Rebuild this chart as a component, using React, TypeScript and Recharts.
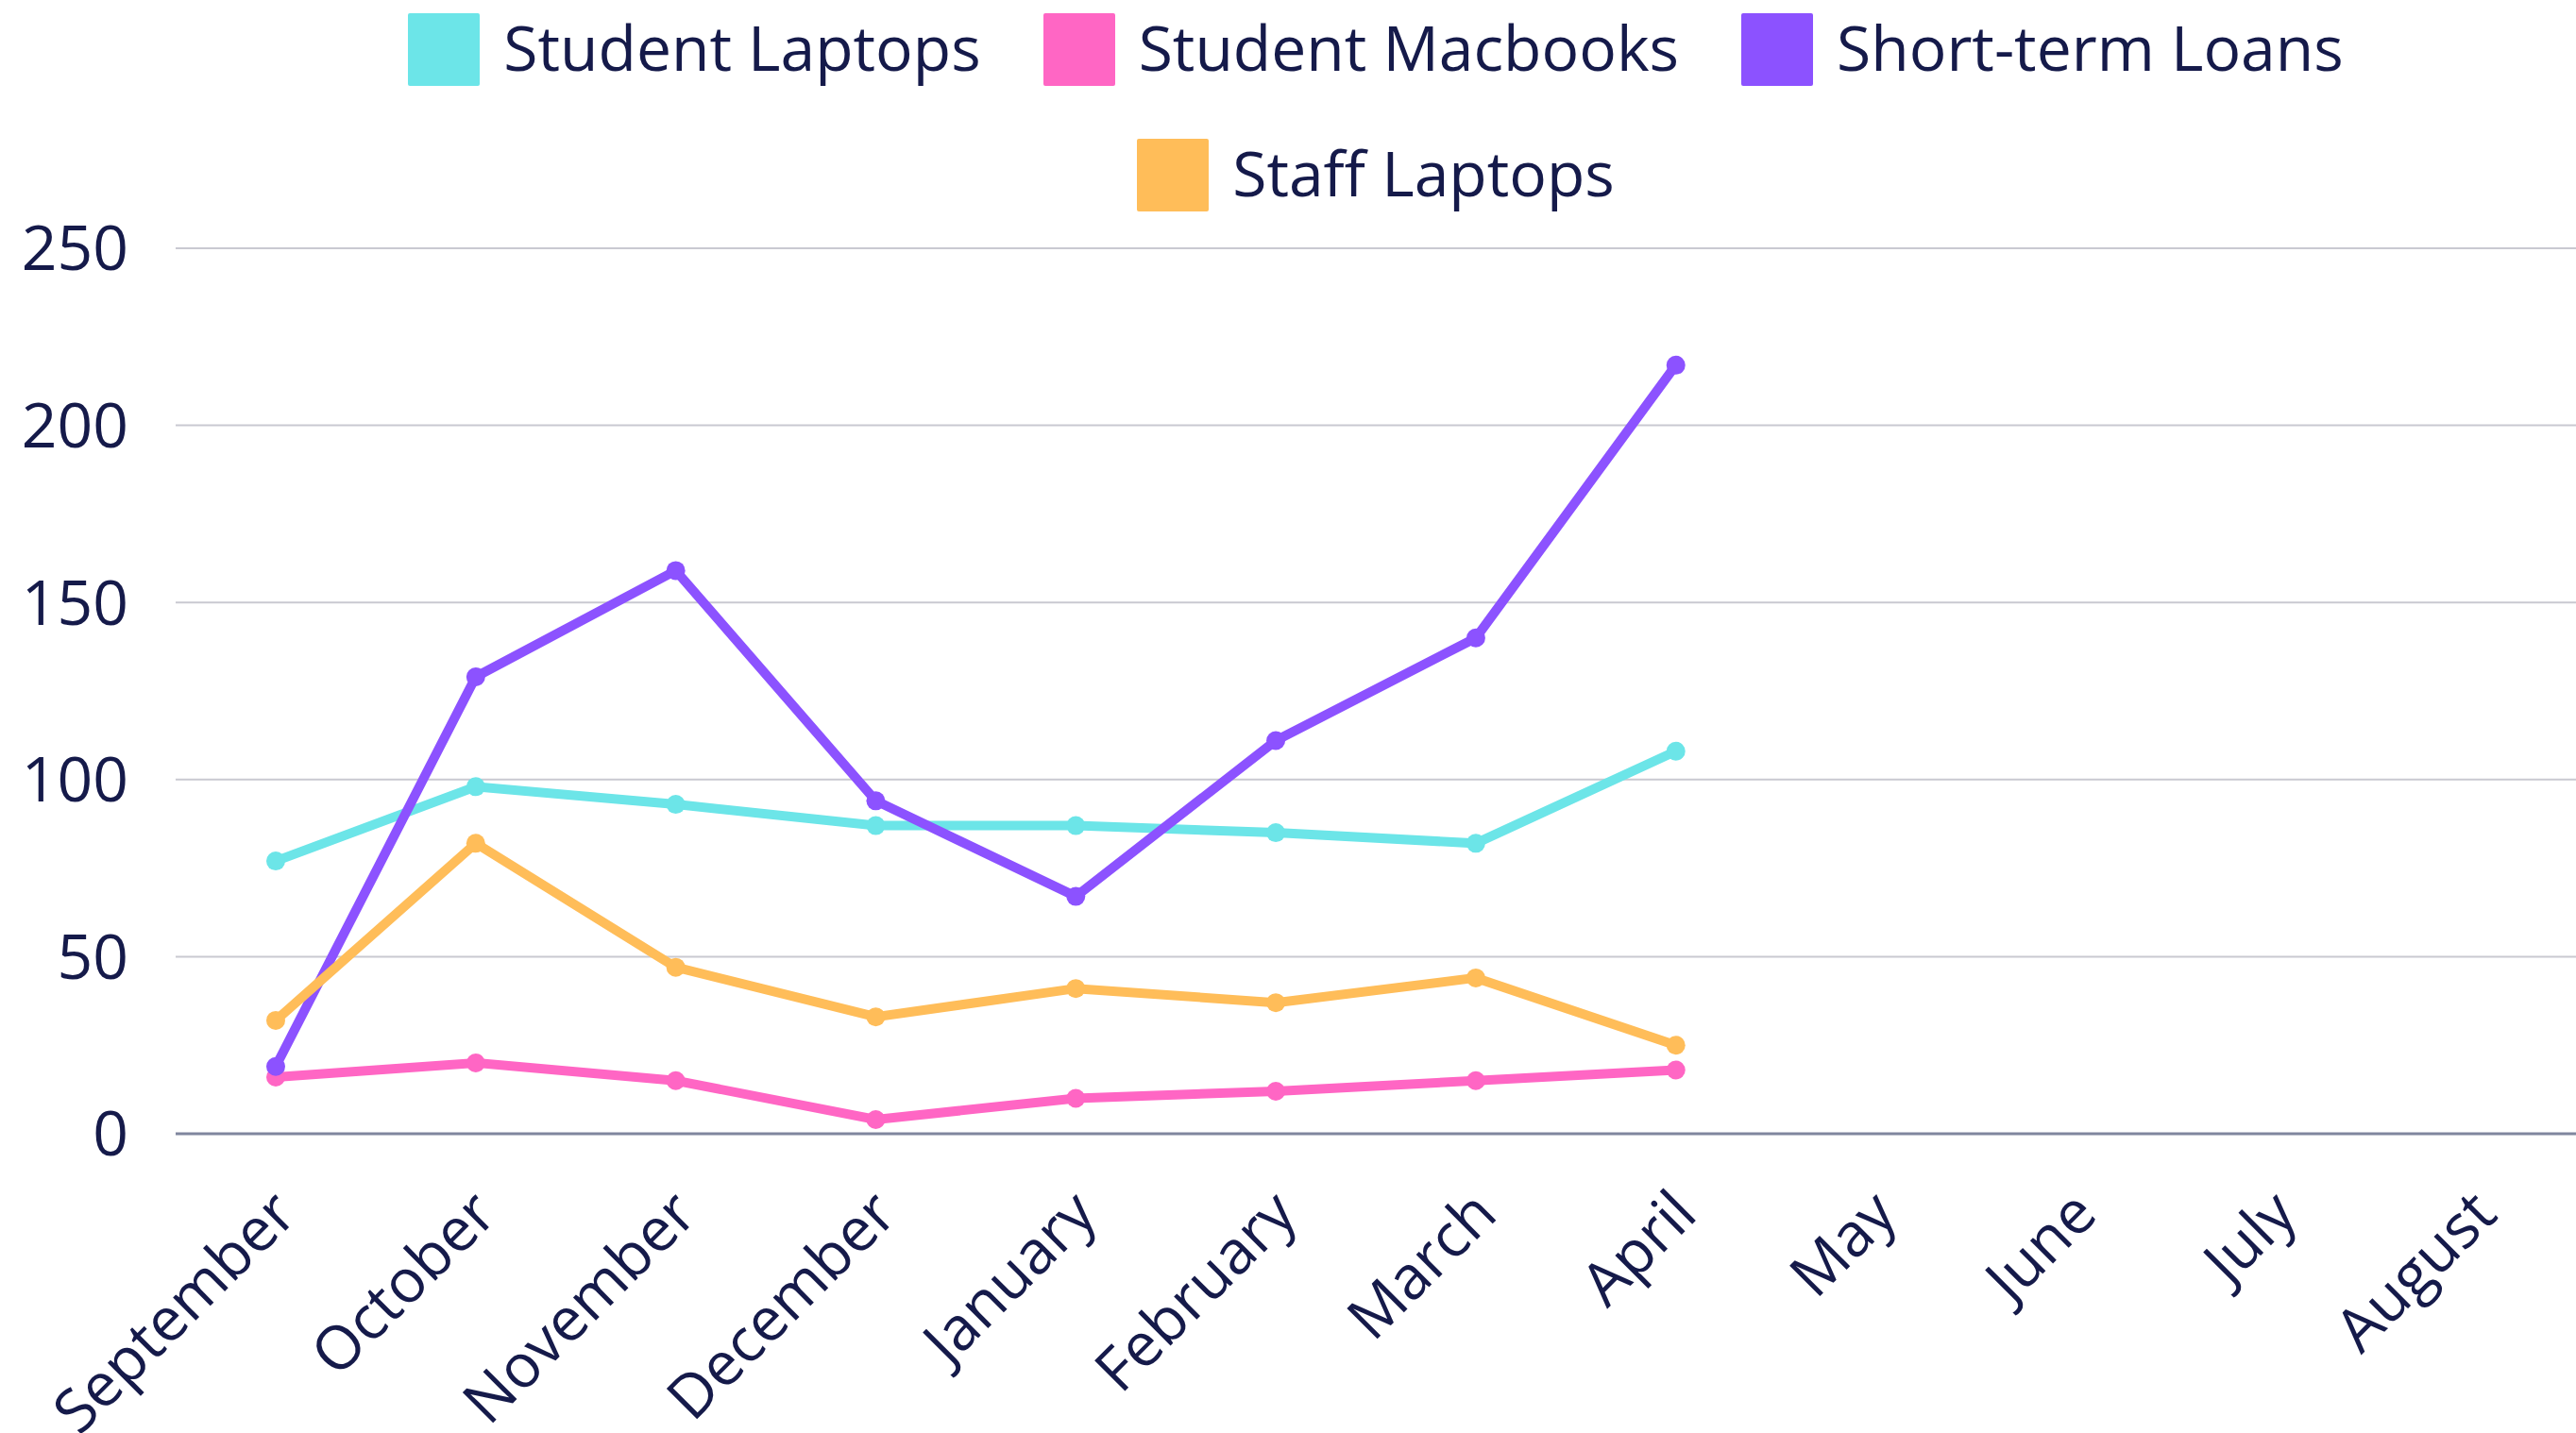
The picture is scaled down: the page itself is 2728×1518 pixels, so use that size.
import { LineChart, Line, XAxis, YAxis, CartesianGrid, Legend } from "recharts"

const months = [
  "September",
  "October",
  "November",
  "December",
  "January",
  "February",
  "March",
  "April",
  "May",
  "June",
  "July",
  "August",
]

const studentLaptops = [77, 98, 93, 87, 87, 85, 82, 108, null, null, null, null]
const studentMacbooks = [16, 20, 15, 4, 10, 12, 15, 18, null, null, null, null]
const shortTermLoans = [19, 129, 159, 94, 67, 111, 140, 217, null, null, null, null]
const staffLaptops = [32, 82, 47, 33, 41, 37, 44, 25, null, null, null, null]

const yTicks = [0, 50, 100, 150, 200, 250]

const series = [
  { key: "studentLaptops", name: "Student Laptops", color: "#6ce5e8" },
  { key: "studentMacbooks", name: "Student Macbooks", color: "#ff66c4" },
  { key: "shortTermLoans", name: "Short-term Loans", color: "#8c52ff" },
  { key: "staffLaptops", name: "Staff Laptops", color: "#ffbd59" },
]

const data = months.map((month, i) => ({
  month,
  studentLaptops: studentLaptops[i],
  studentMacbooks: studentMacbooks[i],
  shortTermLoans: shortTermLoans[i],
  staffLaptops: staffLaptops[i],
}))

const textColor = "#151a4a"

function ChartLegend() {
  const rows = [series.slice(0, 3), series.slice(3)]
  return (
    <div style={{ height: 263, paddingLeft: 186, boxSizing: "border-box" }}>
      {rows.map((row, i) => (
        <div
          key={i}
          style={{ display: "flex", justifyContent: "center", gap: 66, height: 133, paddingTop: 14, boxSizing: "border-box" }}
        >
          {row.map((s) => (
            <div key={s.key} style={{ display: "flex", alignItems: "center", height: 77 }}>
              <div style={{ width: 76, height: 77, background: s.color, borderRadius: 2 }} />
              <span
                style={{ marginLeft: 25, fontFamily: "Open Sans", fontSize: 66, color: textColor, lineHeight: 1, marginTop: -8 }}
              >
                {s.name}
              </span>
            </div>
          ))}
        </div>
      ))}
    </div>
  )
}

function MonthTick({ x, y, payload }: any) {
  return (
    <g transform={`translate(${x + 25},${y + 88})`}>
      <text transform="rotate(-45)" textAnchor="end" fill={textColor} fontFamily="Open Sans" fontSize={64}>
        {payload.value}
      </text>
    </g>
  )
}

export default function App() {
  return (
    <div style={{ position: "absolute", left: 0, top: 0, background: "#fff" }}>
      <LineChart width={2728} height={1518} data={data} margin={{ top: 0, right: 0, bottom: 0, left: 0 }}>
        <CartesianGrid horizontal vertical={false} stroke="#c9c9d1" strokeWidth={2} />
        <Legend
          verticalAlign="top"
          content={() => <ChartLegend />}
          wrapperStyle={{ left: 0, top: 0, width: 2728 }}
        />
        <XAxis
          dataKey="month"
          interval={0}
          height={317}
          padding={{ left: 106, right: 106 }}
          tickSize={0}
          tickMargin={0}
          tickLine={false}
          axisLine={{ stroke: "#80869e", strokeWidth: 3 }}
          tick={<MonthTick />}
        />
        <YAxis
          width={186}
          domain={[0, 250]}
          ticks={yTicks}
          tickSize={0}
          tickMargin={50}
          tickLine={false}
          axisLine={false}
          tick={{ fill: textColor, fontFamily: "Open Sans", fontSize: 66 }}
        />
        {series.map((s) => (
          <Line
            key={s.key}
            dataKey={s.key}
            name={s.name}
            stroke={s.color}
            strokeWidth={10}
            dot={{ r: 10, fill: s.color, stroke: s.color, strokeWidth: 0 }}
            isAnimationActive={false}
          />
        ))}
      </LineChart>
    </div>
  )
}
